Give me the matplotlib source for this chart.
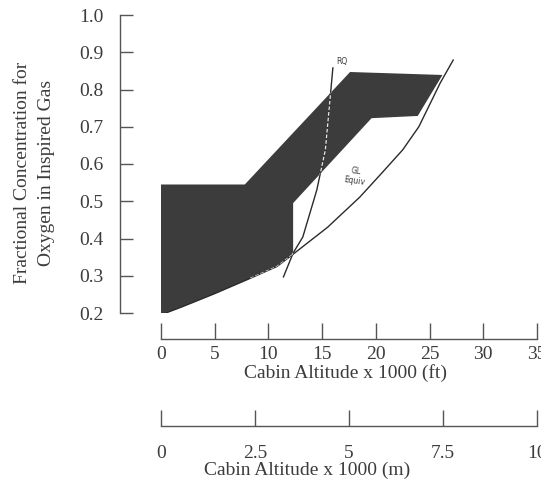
import numpy as np
import matplotlib
matplotlib.use("Agg")
import matplotlib.pyplot as plt
from matplotlib.patches import Polygon

plt.rcParams['font.family'] = ['Liberation Serif', 'DejaVu Serif']

# GL-equivalent curve (altitude kft, FiO2)
gl_alt = [0, 2, 5, 8.3, 10.8, 12.3, 15.5, 18.5, 20.5, 22.5, 24, 26, 27.2]
gl_fio2 = [0.195, 0.217, 0.252, 0.293, 0.325, 0.358, 0.43, 0.511, 0.574, 0.638, 0.70, 0.818, 0.879]

# RQ line
rq_alt = [11.4, 12.3, 13.2, 14.5, 15.3, 16.0]
rq_fio2 = [0.297, 0.361, 0.404, 0.53, 0.638, 0.858]

# shaded band outline (upper part, clockwise from top-left), closed along GL curve
band_alt = [0, 7.8, 17.6, 26.2, 23.9, 19.6, 12.3, 12.3]
band_fio2 = [0.545, 0.545, 0.847, 0.839, 0.729, 0.723, 0.495, 0.358]

ft_ticks = [0, 5, 10, 15, 20, 25, 30, 35]
m_ticks = [0, 2.5, 5, 7.5, 10]
m_labels = ['0', '2.5', '5', '7.5', '10']
y_ticks = [0.2, 0.3, 0.4, 0.5, 0.6, 0.7, 0.8, 0.9, 1.0]

grey = '#3c3c3c'
ink = '#2b2b2b'
txt = '#3c3c3c'
fs = 14

fig = plt.figure(figsize=(5.41, 4.79), dpi=100)
ax = fig.add_axes([161/541, 1 - 313/479, 376/541, 298/479])

# band polygon: outline + GL curve back to origin
lower = [(a, f) for a, f in zip(gl_alt, gl_fio2) if a <= 12.3]
pts = list(zip(band_alt, band_fio2)) + lower[::-1][1:]
band = Polygon(pts, closed=True, facecolor=grey, edgecolor='none', zorder=1)
ax.add_patch(band)

ax.plot(gl_alt, gl_fio2, color=ink, lw=1.0, zorder=2)
ax.plot(rq_alt, rq_fio2, color=ink, lw=1.0, zorder=2)
# lines show light where they cross the dark band
gl_part = [(a, f) for a, f in zip(gl_alt, gl_fio2) if a >= 8]
for xs, ys in [([p[0] for p in gl_part], [p[1] for p in gl_part]), (rq_alt, rq_fio2)]:
    ln, = ax.plot(xs, ys, color='#e8e8e8', lw=0.9, ls=(0, (3, 1.5)), zorder=3)
    ln.set_clip_path(band)

ax.text(16.85, 0.874, 'RQ', fontsize=5.5, family='DejaVu Sans', color=txt,
        ha='center', va='center')
ax.text(18.1, 0.568, 'GL\nEquiv', fontsize=5.5, family='DejaVu Sans', color=txt,
        ha='center', va='center', linespacing=1.1, rotation=-8)

ax.set_xlim(0, 35)
ax.set_ylim(0.2, 1.0)
for s in ['top', 'right']:
    ax.spines[s].set_visible(False)
ax.spines['left'].set_position(('outward', 29.5))
ax.spines['bottom'].set_position(('outward', 18.7))
for s in ['left', 'bottom']:
    ax.spines[s].set_color('#555555')
    ax.spines[s].set_linewidth(1.0)

ax.set_xticks(ft_ticks)
ax.set_xticklabels([str(t) for t in ft_ticks])
ax.set_yticks(y_ticks)
ax.set_yticklabels(['%.1f' % t for t in y_ticks])
ax.tick_params(axis='y', direction='in', length=9.4, width=1.0, color='#555555',
               pad=12, labelsize=fs, labelcolor=txt)
ax.tick_params(axis='x', direction='in', length=11.5, width=1.0, color='#555555',
               pad=5, labelsize=fs, labelcolor=txt)
ax.set_xlabel('Cabin Altitude x 1000 (ft)', fontsize=fs, color=txt, labelpad=0.5)
ax.xaxis.label.set_x(0.49)
ax.set_ylabel('Fractional Concentration for\nOxygen in Inspired Gas', fontsize=fs,
              color=txt, linespacing=1.5)
ax.yaxis.set_label_coords(-0.282, 0.47)

# metric altitude scale
axm = fig.add_axes([161/541, 1 - 426/479, 376/541, 0.0001])
axm.set_xlim(0, 10)
axm.set_yticks([])
for s in ['top', 'right', 'left']:
    axm.spines[s].set_visible(False)
axm.spines['bottom'].set_color('#555555')
axm.spines['bottom'].set_linewidth(1.0)
axm.patch.set_visible(False)
axm.set_xticks(m_ticks)
axm.set_xticklabels(m_labels)
axm.tick_params(axis='x', direction='in', length=11.5, width=1.0, color='#555555',
                pad=14, labelsize=fs, labelcolor=txt)
axm.set_xlabel('Cabin Altitude x 1000 (m)', fontsize=fs, color=txt, labelpad=-0.5)
axm.xaxis.label.set_x(0.388)

fig.savefig('out.png', dpi=100)
